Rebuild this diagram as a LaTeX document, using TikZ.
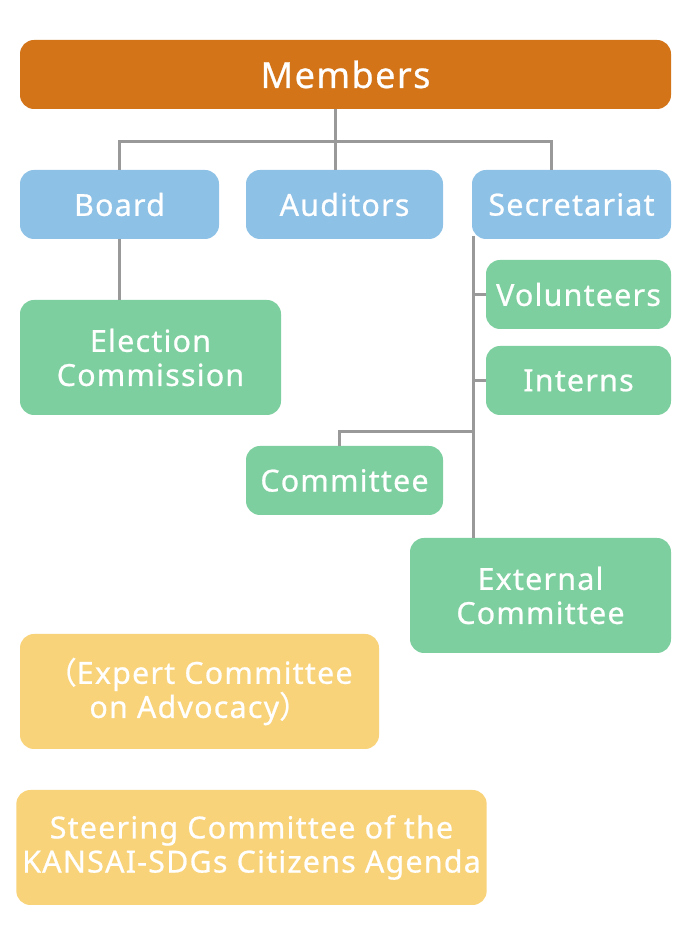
\documentclass[tikz,border=0pt]{standalone}
\usepackage{fontspec}
\setmainfont{Noto Sans}[LetterSpace=4, FakeBold=0.7]
\newfontfamily\cjk{Noto Sans CJK JP}[FakeBold=0.7]
\usetikzlibrary{positioning, calc}
\usepackage{xcolor}
\definecolor{OrgOrange}{HTML}{D37418}
\definecolor{OrgBlue}{HTML}{8EC1E6}
\definecolor{OrgGreen}{HTML}{7DCF9F}
\definecolor{OrgYellow}{HTML}{F8D37A}
\definecolor{OrgLine}{HTML}{999999}
\tikzset{
    % Box styles - rounded corners, white text
    topbox/.style={
        rectangle,
        rounded corners=0.28cm,
        fill=OrgOrange,
        text=white,
        minimum width=13.02cm,
        minimum height=1.38cm,
        align=center,
        font=\fontsize{20.5}{24}\selectfont
    },
    bluebox/.style={
        rectangle,
        rounded corners=0.28cm,
        fill=OrgBlue,
        text=white,
        minimum width=3.96cm,
        minimum height=1.38cm,
        align=center,
        font=\fontsize{17.3}{19.4}\selectfont
    },
    greenbox/.style={
        rectangle,
        rounded corners=0.28cm,
        fill=OrgGreen,
        text=white,
        minimum width=3.96cm,
        minimum height=1.38cm,
        align=center,
        font=\fontsize{17.3}{19.4}\selectfont
    },
    yellowbox/.style={
        rectangle,
        rounded corners=0.28cm,
        fill=OrgYellow,
        text=white,
        minimum height=2.30cm,
        align=center,
        font=\fontsize{17.3}{19.4}\selectfont
    },
    % Connector style - straight gray lines
    orgline/.style={
        line width=1.7pt,
        draw=OrgLine
    }
}
\begin{document}
\begin{tikzpicture}
    \useasboundingbox (0,0) rectangle (13.8,18.92);

    % Top level
    \node[topbox] (members) at (6.91,17.43) {Members};

    % Second level
    \node[bluebox, minimum width=3.98cm] (board) at (2.39,14.83) {Board};
    \node[bluebox, minimum width=3.94cm] (auditors) at (6.89,14.83) {Auditors};
    \node[bluebox, minimum width=3.98cm] (secretariat) at (11.43,14.83) {Secretariat};

    % Under Board
    \node[greenbox, minimum width=5.22cm, minimum height=2.30cm] (election) at (3.01,11.77) {Election\\Commission};

    % Under Secretariat
    \node[greenbox, minimum width=3.70cm] (volunteers) at (11.57,13.03) {Volunteers};
    \node[greenbox, minimum width=3.70cm] (interns) at (11.57,11.31) {Interns};
    \node[greenbox, minimum width=3.94cm] (committee) at (6.89,9.31) {Committee};
    \node[greenbox, minimum width=5.22cm, minimum height=2.30cm] (external) at (10.81,7.01) {External\\Committee};

    % Separate bodies
    \node[yellowbox, minimum width=7.18cm] (expert) at (3.99,5.09) {{\cjk （}Expert Committee\\on Advocacy{\cjk ）}};
    \node[yellowbox, minimum width=9.34cm] (steering) at (5.03,1.97) {Steering Committee of the\\KANSAI-SDGs Citizens Agenda};

    % Connectors
    \coordinate (hub) at (6.70,16.08);
    \coordinate (secdrop) at (11.02,16.08);
    \draw[orgline] (hub |- members.south) -- (hub);
    \draw[orgline] (board.north) |- (secdrop) -- (secdrop |- secretariat.north);
    \draw[orgline] (hub) -- (hub |- auditors.north);
    \draw[orgline] (board.south) -- (board.south |- election.north);

    \coordinate (trunk) at (9.46,14.20);
    \coordinate (cbranch) at (9.46,10.29);
    \draw[orgline] (trunk) -- (trunk |- external.north);
    \draw[orgline] (trunk |- volunteers.west) -- (volunteers.west);
    \draw[orgline] (trunk |- interns.west) -- (interns.west);
    \draw[orgline] (cbranch) -| ($(committee.north)+(-0.11,0)$);
\end{tikzpicture}
\end{document}
